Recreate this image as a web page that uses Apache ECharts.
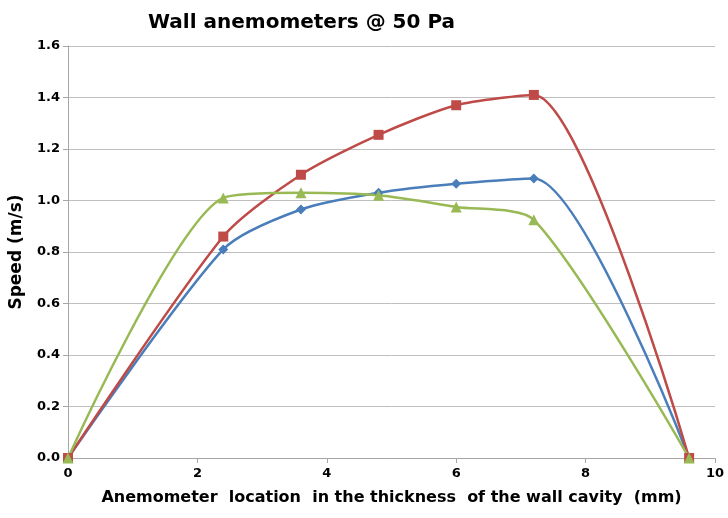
<!DOCTYPE html>
<html>
<head>
<meta charset="utf-8">
<script src="https://cdn.jsdelivr.net/npm/echarts@6/dist/echarts.min.js"></script>
<style>
  html, body { margin: 0; padding: 0; background: #fff; }
  #chart { width: 728px; height: 518px; }
</style>
</head>
<body>
<div id="chart"></div>
<script>
// anemometer positions (mm) and speeds (m/s)
var positions = [0, 2.4, 3.6, 4.8, 6.0, 7.2, 9.6]
var blueSpeed = [0, 0.81, 0.965, 1.03, 1.065, 1.085, 0]
var redSpeed = [0, 0.86, 1.10, 1.255, 1.37, 1.41, 0]
var greenSpeed = [0, 1.01, 1.03, 1.02, 0.975, 0.925, 0]

function pairs (ys) {
  return positions.map(function (x, i) { return [x, ys[i]] })
}

var font = 'DejaVu Sans, sans-serif'

function line (name, data, color, symbol, size) {
  return {
    name: name,
    type: 'line',
    smooth: 0.25,
    data: pairs(data),
    symbol: symbol,
    symbolSize: size,
    lineStyle: { color: color, width: 2.5 },
    itemStyle: { color: color }
  }
}

var chart = echarts.init(document.getElementById('chart'))
chart.setOption({
  animation: false,
  title: {
    text: 'Wall anemometers @ 50 Pa',
    left: 143,
    top: 8,
    textStyle: { fontFamily: font, fontSize: 20, fontWeight: 'bold', color: '#000' }
  },
  grid: { left: 68, right: 13, top: 46, bottom: 60 },
  xAxis: {
    type: 'value',
    min: 0,
    max: 10,
    interval: 2,
    name: 'Anemometer  location  in the thickness  of the wall cavity  (mm)',
    nameLocation: 'middle',
    nameGap: 32,
    nameTextStyle: { fontFamily: font, fontSize: 16, fontWeight: 'bold', color: '#000' },
    axisLine: { lineStyle: { color: '#a6a6a6' } },
    axisTick: { show: true, length: 5, lineStyle: { color: '#a6a6a6' } },
    splitLine: { show: false },
    axisLabel: { fontFamily: font, fontSize: 13, fontWeight: 'bold', color: '#000', margin: 9 }
  },
  yAxis: {
    type: 'value',
    min: 0,
    max: 1.6,
    interval: 0.2,
    name: 'Speed (m/s)',
    nameLocation: 'middle',
    nameGap: 43,
    nameTextStyle: { fontFamily: font, fontSize: 17, fontWeight: 'bold', color: '#000' },
    axisLine: { show: true, lineStyle: { color: '#a6a6a6' } },
    axisTick: { show: true, length: 5, lineStyle: { color: '#a6a6a6' } },
    splitLine: { lineStyle: { color: '#bfbfbf' } },
    axisLabel: {
      fontFamily: font, fontSize: 13, fontWeight: 'bold', color: '#000', margin: 8,
      formatter: function (v) { return v.toFixed(1) }
    }
  },
  series: [
    line('Blue', blueSpeed, '#4a7ebb', 'diamond', 10),
    line('Red', redSpeed, '#be4b48', 'rect', 10),
    line('Green', greenSpeed, '#98b954', 'triangle', 11)
  ]
})
</script>
</body>
</html>
